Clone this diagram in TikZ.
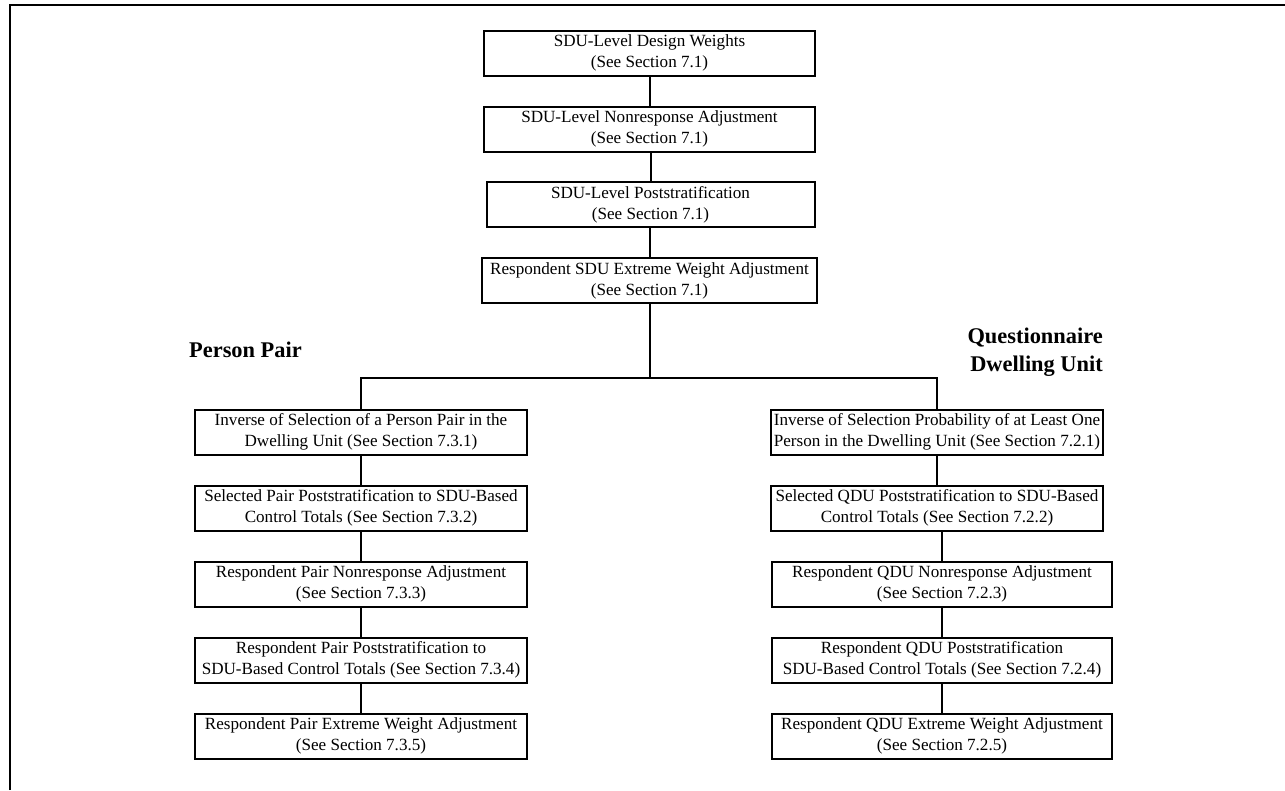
\documentclass[tikz,border=0pt]{standalone}
\usepackage{fontspec}
\setmainfont{Liberation Serif}
\usepackage{tikz}

\tikzset{
  stepbox/.style={draw, line width=2pt, align=center, minimum height=45pt,
    inner sep=2pt, font=\fontsize{17.1}{21}\selectfont},
  link/.style={line width=2pt},
  heading/.style={font=\fontsize{22.4}{28}\selectfont\bfseries, inner sep=0pt}
}

\begin{document}
\begin{tikzpicture}[x=1pt,y=-1pt]
  \useasboundingbox (0,0) rectangle (1285,790);

  % Draw the frame
  \draw[line width=2.6pt] (10,790) -- (10,5) -- (1285,5);

  % SDU-level boxes
  \node[stepbox, minimum width=331pt] (sdu1) at (649.5,53)
    {SDU-Level Design Weights\\(See Section 7.1)};
  \node[stepbox, minimum width=331pt] (sdu2) at (649.5,129)
    {SDU-Level Nonresponse Adjustment\\(See Section 7.1)};
  \node[stepbox, minimum width=328pt] (sdu3) at (650.5,204.5)
    {SDU-Level Poststratification\\(See Section 7.1)};
  \node[stepbox, minimum width=335pt] (sdu4) at (649.5,280.5)
    {Respondent SDU Extreme Weight Adjustment\\(See Section 7.1)};

  % Person pair boxes
  \node[heading, anchor=west] (ppair) at (189,350) {Person Pair};
  \node[stepbox, minimum width=332pt] (pp1) at (361,432)
    {Inverse of Selection of a Person Pair in the\\Dwelling Unit (See Section 7.3.1)};
  \node[stepbox, minimum width=332pt] (pp2) at (361,508)
    {Selected Pair Poststratification to SDU-Based\\Control Totals (See Section 7.3.2)};
  \node[stepbox, minimum width=332pt] (pp3) at (361,584)
    {Respondent Pair Nonresponse Adjustment\\(See Section 7.3.3)};
  \node[stepbox, minimum width=332pt] (pp4) at (361,660)
    {Respondent Pair Poststratification to\\SDU-Based Control Totals (See Section 7.3.4)};
  \node[stepbox, minimum width=332pt] (pp5) at (361,736)
    {Respondent Pair Extreme Weight Adjustment\\(See Section 7.3.5)};

  % Questionnaire dwelling unit boxes
  \node[heading, anchor=east, align=right] (qdu) at (1103,352)
    {Questionnaire\\Dwelling Unit};
  \node[stepbox, minimum width=332pt] (qdu1) at (937,432)
    {Inverse of Selection Probability of at Least One\\Person in the Dwelling Unit (See Section 7.2.1)};
  \node[stepbox, minimum width=332pt] (qdu2) at (937,508)
    {Selected QDU Poststratification to SDU-Based\\Control Totals (See Section 7.2.2)};
  \node[stepbox, minimum width=340pt] (qdu3) at (942,584)
    {Respondent QDU Nonresponse Adjustment\\(See Section 7.2.3)};
  \node[stepbox, minimum width=340pt] (qdu4) at (942,660)
    {Respondent QDU Poststratification\\SDU-Based Control Totals (See Section 7.2.4)};
  \node[stepbox, minimum width=340pt] (qdu5) at (942,736)
    {Respondent QDU Extreme Weight Adjustment\\(See Section 7.2.5)};

  % Draw connectors
  \foreach \a/\b in {sdu1/sdu2,sdu2/sdu3,sdu3/sdu4,pp1/pp2,pp2/pp3,pp3/pp4,pp4/pp5,
                     qdu1/qdu2,qdu2/qdu3,qdu3/qdu4,qdu4/qdu5} {
    \draw[link] (\b.north) -- (\b.north |- \a.south);
  }

  % Split into the two branches
  \coordinate (split) at (649.5,378);
  \draw[link] (sdu4.south) -- (split);
  \draw[link] (pp1.north) -- (pp1.north |- split) -- (qdu1.north |- split) -- (qdu1.north);

\end{tikzpicture}
\end{document}
